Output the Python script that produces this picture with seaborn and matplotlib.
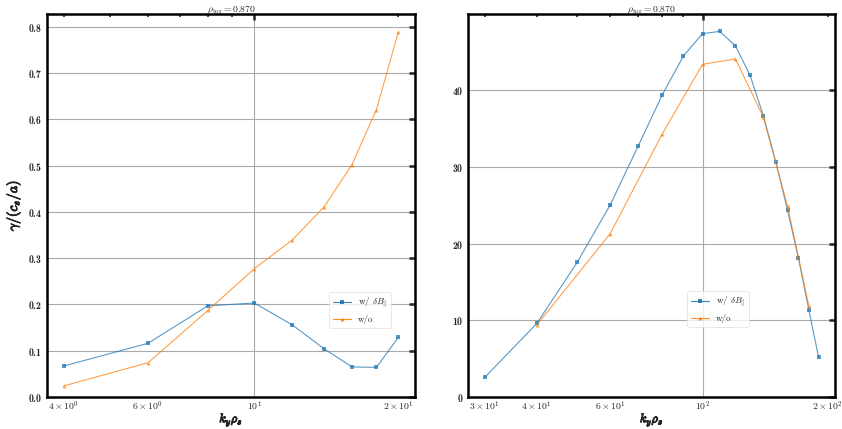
import numpy as np
import pandas as pd
import seaborn as sns
import matplotlib
matplotlib.use("Agg")
import matplotlib.pyplot as plt
import matplotlib.patheffects as pe
from matplotlib.ticker import LogFormatterSciNotation

# ---- data ----
ky_left = [4, 6, 8, 10, 12, 14, 16, 18, 20]
gamma_with_left = [0.067, 0.116, 0.197, 0.203, 0.156, 0.104, 0.065, 0.064, 0.129]
gamma_without_left = [0.024, 0.074, 0.187, 0.277, 0.339, 0.411, 0.502, 0.621, 0.789]

ky_right_with = [30, 40, 50, 60, 70, 80, 90, 100, 110, 120, 130, 140, 150, 160, 170, 180, 190]
gamma_with_right = [2.57, 9.6, 17.57, 25.05, 32.7, 39.4, 44.5, 47.4, 47.7, 45.8, 42.0,
                    36.7, 30.65, 24.4, 18.1, 11.4, 5.2]
ky_right_without = [40, 60, 80, 100, 120, 140, 160, 180]
gamma_without_right = [9.4, 21.3, 34.3, 43.4, 44.1, 36.5, 24.9, 11.9]

title_text = r"$\rho_{\rm tor} = \mathbf{0.870}$"
label_with = r"w/ $\delta B_{\|}$"
label_without = "w/o"
xlabel = r"$k_y\rho_s$"
ylabel = r"$\gamma/(c_s/a)$"

sns.set_style("white")
plt.rcParams.update({
    "font.family": "serif",
    "font.serif": ["cmb10", "DejaVu Serif"],
    "mathtext.fontset": "cm",
    "axes.formatter.use_mathtext": True,
    "axes.unicode_minus": False,
})

blue = "#1f77b4"
orange = "#ff7f0e"


class BoldLog(LogFormatterSciNotation):
    def __call__(self, x, pos=None):
        s = super().__call__(x, pos)
        return s.replace(r"\mathdefault", r"\mathbf")


fig = plt.figure(figsize=(8.42, 4.29), dpi=100)
ax1 = fig.add_axes([0.0558, 0.0746, 0.4372, 0.8926])
ax2 = fig.add_axes([0.556, 0.0746, 0.436, 0.8926])

bold = [pe.withStroke(linewidth=0.7, foreground="#222222")]


def draw(ax, xw, yw, xo, yo, show_ylabel, legend_anchor):
    dfw = pd.DataFrame({"x": xw, "y": yw})
    dfo = pd.DataFrame({"x": xo, "y": yo})
    sns.lineplot(data=dfw, x="x", y="y", ax=ax, color=blue, marker="s",
                 markersize=2.5, markeredgewidth=0, linewidth=0.8, alpha=0.75,
                 label=label_with)
    sns.lineplot(data=dfo, x="x", y="y", ax=ax, color=orange, marker="^",
                 markersize=2.8, markeredgewidth=0, linewidth=0.8, alpha=0.75,
                 label=label_without)
    ax.set_xscale("log")
    ax.xaxis.set_major_formatter(BoldLog())
    ax.xaxis.set_minor_formatter(BoldLog(labelOnlyBase=False))
    ax.set_ylim(bottom=0)
    ax.grid(True, which="major", color="#aaaaaa", linewidth=0.8)
    ax.tick_params(which="both", direction="in", top=True, right=True,
                   labelsize=7, colors="#222222")
    ax.tick_params(axis="x", which="both", pad=2)
    ax.tick_params(which="major", length=4, width=1.8)
    ax.tick_params(which="minor", length=2.5, width=1.2)
    for s in ax.spines.values():
        s.set_linewidth(1.8)
        s.set_color("black")
    ax.set_title(title_text, fontsize=7, pad=1.5)
    xl = ax.set_xlabel(xlabel, fontsize=9)
    ax.xaxis.set_label_coords(0.5, -0.035)
    xl.set_path_effects(bold)
    if show_ylabel:
        yl = ax.set_ylabel(ylabel, fontsize=10, labelpad=4)
        yl.set_path_effects(bold)
    else:
        ax.set_ylabel("")
    leg = ax.legend(loc="center left", bbox_to_anchor=legend_anchor,
                    prop={"family": "cmr10", "size": 6.5},
                    frameon=True, framealpha=0.8, borderpad=0.4, handlelength=2.0,
                    labelspacing=0.5)
    leg.get_frame().set_linewidth(0.6)
    leg.get_frame().set_edgecolor("#dddddd")
    for h in leg.legend_handles:
        h.set_alpha(0.9)


draw(ax1, ky_left, gamma_with_left, ky_left, gamma_without_left, True, (0.755, 0.228))
draw(ax2, ky_right_with, gamma_with_right, ky_right_without, gamma_without_right, False, (0.585, 0.23))

fig.savefig("out.png", dpi=100)
